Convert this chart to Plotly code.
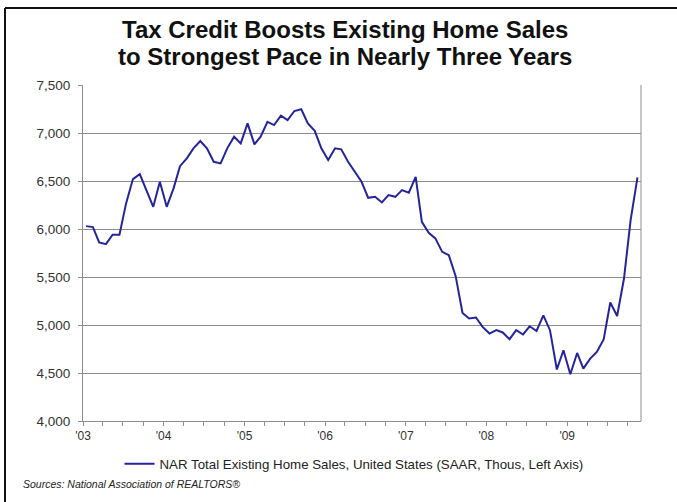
import pandas as pd
import plotly.graph_objects as go

# NAR total existing home sales, SAAR, thousands — monthly, Jan 2003 .. Nov 2009
sales_2003 = [6030, 6020, 5860, 5842, 5940, 5940, 6267, 6520, 6572, 6405, 6231, 6492]
sales_2004 = [6231, 6423, 6655, 6736, 6840, 6916, 6840, 6700, 6683, 6840, 6961, 6892]
sales_2005 = [7100, 6882, 6961, 7117, 7083, 7180, 7135, 7229, 7247, 7100, 7023, 6840]
sales_2006 = [6718, 6840, 6830, 6700, 6596, 6492, 6325, 6335, 6277, 6353, 6335, 6405]
sales_2007 = [6378, 6544, 6075, 5960, 5902, 5762, 5727, 5509, 5126, 5068, 5078, 4980]
sales_2008 = [4911, 4946, 4922, 4852, 4946, 4901, 4987, 4938, 5101, 4946, 4536, 4737]
sales_2009 = [4487, 4709, 4546, 4650, 4719, 4850, 5234, 5094, 5484, 6092, 6538]

sales = sales_2003 + sales_2004 + sales_2005 + sales_2006 + sales_2007 + sales_2008 + sales_2009
# each monthly reading is plotted at mid-month
months = pd.date_range("2003-01-01", periods=len(sales), freq="MS") + pd.Timedelta(days=14)

year_ticks = pd.date_range("2003-01-01", "2009-01-01", freq="YS")
year_labels = ["'03", "'04", "'05", "'06", "'07", "'08", "'09"]
y_ticks = [4000, 4500, 5000, 5500, 6000, 6500, 7000, 7500]
y_labels = ["4,000", "4,500", "5,000", "5,500", "6,000", "6,500", "7,000", "7,500"]

series_name = "NAR Total Existing Home Sales, United States (SAAR, Thous, Left Axis)"
title_lines = ["Tax Credit Boosts Existing Home Sales",
               "to Strongest Pace in Nearly Three Years"]
source_text = "<i>Sources: National Association of REALTORS®</i>"

LINE_BLUE = "#25259b"
GRID = "#8c8c8c"
FONT = "Liberation Sans, Arial, sans-serif"

# plot-area geometry in pixels, used to place page-level text and rules
L, R, T, B = 83, 641, 85, 421
W, H = R - L, B - T


def px_x(x):
    return (x - L) / W


def px_y(y):
    return (B - y) / H


fig = go.Figure()
fig.add_trace(go.Scatter(
    x=months, y=sales, mode="lines", name=series_name,
    line=dict(color=LINE_BLUE, width=2),
))

annotations = [
    dict(text=f"<b>{line}</b>", xref="paper", yref="paper",
         x=px_x(345), y=px_y(yc), xanchor="center", yanchor="middle",
         showarrow=False, font=dict(family=FONT, size=24, color="#111111"))
    for line, yc in zip(title_lines, [30, 56])
]
annotations.append(dict(
    text=source_text, xref="paper", yref="paper",
    x=px_x(21), y=px_y(484), xanchor="left", yanchor="middle",
    showarrow=False, font=dict(size=10.5, color="#222222"),
))

fig.update_layout(
    width=677, height=502,
    margin=dict(l=L, r=677 - R, t=T, b=502 - B),
    paper_bgcolor="white", plot_bgcolor="white",
    font=dict(family=FONT, color="#222222", size=12),
    showlegend=True,
    legend=dict(
        orientation="h", x=px_x(354), xanchor="center", xref="paper",
        y=px_y(464), yanchor="middle", font=dict(size=13.3, color="#222222"),
        itemwidth=30, bgcolor="rgba(0,0,0,0)",
    ),
    xaxis=dict(
        type="date", range=["2003-01-01", "2009-12-01"],
        tickmode="array", tickvals=year_ticks, ticktext=year_labels,
        ticks="outside", ticklen=4, tickcolor=GRID,
        minor=dict(dtick="M3", ticks="outside", ticklen=4, tickcolor=GRID, showgrid=False),
        showgrid=False, showline=True, linecolor=GRID, linewidth=1, mirror=False,
        tickfont=dict(size=12, color="#333333"), zeroline=False,
    ),
    yaxis=dict(
        range=[4000, 7500], tickmode="array", tickvals=y_ticks, ticktext=y_labels,
        ticks="outside", ticklen=4, tickcolor=GRID, ticklabelstandoff=5,
        showgrid=True, gridcolor=GRID, gridwidth=1,
        showline=True, linecolor=GRID, linewidth=1, mirror=False,
        tickfont=dict(size=13.5, color="#333333"), zeroline=False,
    ),
    annotations=annotations,
    shapes=[
        # right edge of the plot frame
        dict(type="line", xref="paper", yref="paper", x0=1, x1=1, y0=0, y1=1,
             line=dict(color=GRID, width=1)),
        # outer page frame: left and top rules
        dict(type="line", xref="paper", yref="paper",
             x0=px_x(5), x1=px_x(5), y0=px_y(8), y1=px_y(510),
             line=dict(color="#111111", width=2)),
        dict(type="line", xref="paper", yref="paper",
             x0=px_x(5), x1=px_x(690), y0=px_y(8), y1=px_y(8),
             line=dict(color="#111111", width=2)),
    ],
)

fig.write_html("out.html")
